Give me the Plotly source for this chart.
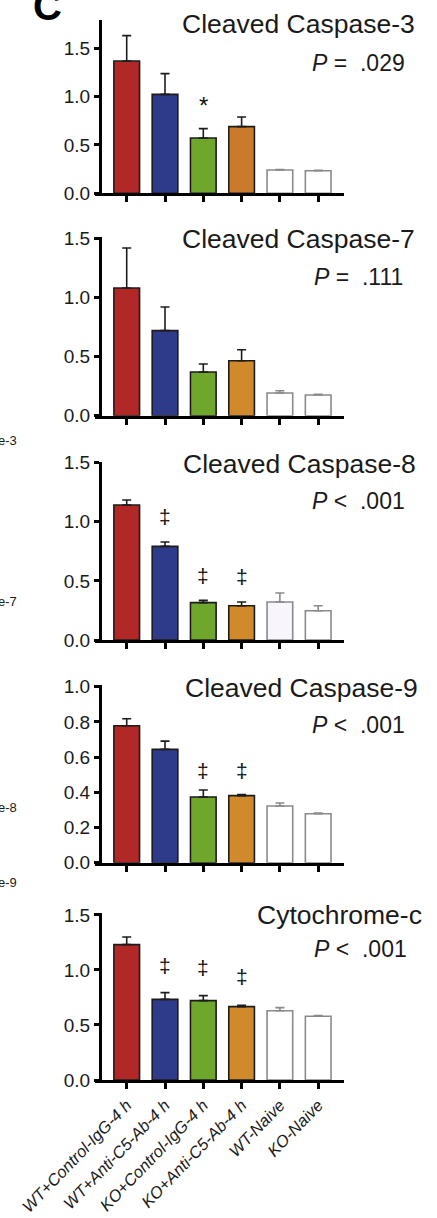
import plotly.graph_objects as go

W, H = 437, 1218

categories = ["WT+Control-IgG-4 h", "WT+Anti-C5-Ab-4 h", "KO+Control-IgG-4 h",
              "KO+Anti-C5-Ab-4 h", "WT-Naive", "KO-Naive"]

titles = ["Cleaved Caspase-3", "Cleaved Caspase-7", "Cleaved Caspase-8",
          "Cleaved Caspase-9", "Cytochrome-c"]
p_texts = ["<i>P</i> =\u00a0 .029", "<i>P</i> =\u00a0 .111", "<i>P</i> <\u00a0 .001",
           "<i>P</i> <\u00a0 .001", "<i>P</i> <\u00a0 .001"]

casp3_mean = [1.369, 1.024, 0.572, 0.690, 0.241, 0.234]
casp3_sem = [0.262, 0.214, 0.097, 0.100, 0.004, 0.004]
casp7_mean = [1.080, 0.719, 0.369, 0.465, 0.192, 0.175]
casp7_sem = [0.338, 0.200, 0.068, 0.093, 0.019, 0.005]
casp8_mean = [1.142, 0.792, 0.316, 0.290, 0.321, 0.248]
casp8_sem = [0.042, 0.037, 0.019, 0.031, 0.077, 0.042]
casp9_mean = [0.778, 0.644, 0.373, 0.381, 0.322, 0.278]
casp9_sem = [0.040, 0.047, 0.040, 0.007, 0.017, 0.004]
cytc_mean = [1.230, 0.733, 0.721, 0.667, 0.630, 0.579]
cytc_sem = [0.070, 0.061, 0.046, 0.012, 0.028, 0.006]

means = [casp3_mean, casp7_mean, casp8_mean, casp9_mean, cytc_mean]
sems = [casp3_sem, casp7_sem, casp8_sem, casp9_sem, cytc_sem]

# significance markers: (panel, category index, symbol, y)
sig_panel = [0, 2, 2, 2, 3, 3, 4, 4, 4]
sig_cat = [2, 1, 2, 3, 2, 3, 1, 2, 3]
sig_sym = ["*", "‡", "‡", "‡", "‡", "‡", "‡", "‡", "‡"]
sig_y = [0.905, 1.043, 0.547, 0.533, 0.523, 0.523, 1.039, 1.021, 0.945]

y_ranges = [1.793, 1.51, 1.51, 1.01, 1.515]
y_ticks = [[0, 0.5, 1.0, 1.5]] * 3 + [[0, 0.2, 0.4, 0.6, 0.8, 1.0]] + [[0, 0.5, 1.0, 1.5]]
# pixel rows: (zero line, top)
rows_px = [(193.3, 20.0), (415.7, 237.1), (640.0, 461.5), (862.7, 685.0), (1080.0, 913.3)]
title_px = [(417, 24), (417, 239), (418, 464), (420, 688), (424, 915)]
ptext_px = [(407, 62.5), (405, 277), (407, 501), (407, 725), (409, 949)]

fills = ["#b22826", "#2e3a8a", "#6fa72d", "#d08a2c", "#ffffff", "#ffffff"]
fills_p = [list(fills) for _ in range(5)]
fills_p[0][3] = "#c97a2b"
fills_p[2][4] = "#f8f6fc"
dark = "#1c1c1c"
gray = "#8a8a8a"

FONT = "Liberation Sans, Arial, Helvetica, sans-serif"

def px_x(p):
    return p / W

def px_y(p):
    return 1 - p / H

fig = go.Figure()
x_dom = [px_x(95), px_x(344)]
yaxis_pos = px_x(100)

layout = {}
annotations = []
for i in range(5):
    xa = "x" if i == 0 else f"x{i+1}"
    ya = "y" if i == 0 else f"y{i+1}"
    m, s = means[i], sems[i]
    # colored bars
    fig.add_trace(go.Bar(
        x=categories[:4], y=m[:4], width=0.67, xaxis=xa, yaxis=ya,
        marker=dict(color=fills_p[i][:4], line=dict(color=dark, width=1.6)),
        error_y=dict(type="data", symmetric=False, array=s[:4], arrayminus=[0] * 4,
                     color=dark, thickness=1.6, width=4.5),
        showlegend=False, hoverinfo="skip"))
    # naive bars
    fig.add_trace(go.Bar(
        x=categories[4:], y=m[4:], width=0.67, xaxis=xa, yaxis=ya,
        marker=dict(color=fills_p[i][4:], line=dict(color=gray, width=1.6)),
        error_y=dict(type="data", symmetric=False, array=s[4:], arrayminus=[0] * 2,
                     color=gray, thickness=1.6, width=4.5),
        showlegend=False, hoverinfo="skip"))

    zero_px, top_px = rows_px[i]
    xkey = "xaxis" if i == 0 else f"xaxis{i+1}"
    ykey = "yaxis" if i == 0 else f"yaxis{i+1}"
    layout[xkey] = dict(
        domain=x_dom, anchor=ya, type="category", categoryorder="array",
        categoryarray=categories, range=[-0.828, 5.674],
        showline=True, linecolor="#000", linewidth=3, showgrid=False, zeroline=False,
        ticks="outside", ticklen=6, tickwidth=2.5, tickcolor="#000",
        tickmode="array", tickvals=categories,
        ticktext=[f"<i>{c}</i>" for c in categories] if i == 4 else [""] * 6,
        tickangle=-46, tickfont=dict(family=FONT, size=16.5, color="#1a1a1a"),
        fixedrange=True)
    layout[ykey] = dict(
        domain=[px_y(zero_px), px_y(top_px)], anchor="free", position=yaxis_pos,
        range=[0, y_ranges[i]], showline=True, linecolor="#000", linewidth=3,
        showgrid=False, zeroline=False, ticks="outside", ticklen=5, tickwidth=2.5,
        tickcolor="#000", tickmode="array", tickvals=y_ticks[i],
        ticktext=[f"{v:.1f}" for v in y_ticks[i]],
        tickfont=dict(family=FONT, size=19, color="#1a1a1a"), fixedrange=True)

    tx, ty = title_px[i]
    annotations.append(dict(text=titles[i], x=px_x(tx), y=px_y(ty), xref="paper", yref="paper",
                            xanchor="right", yanchor="middle", showarrow=False,
                            font=dict(family=FONT, size=26.5, color="#1a1a1a")))
    px_, py_ = ptext_px[i]
    annotations.append(dict(text=p_texts[i], x=px_x(px_), y=px_y(py_), xref="paper", yref="paper",
                            xanchor="right", yanchor="middle", showarrow=False,
                            font=dict(family=FONT, size=23, color="#1a1a1a")))

for pnl, ci, sym, yv in zip(sig_panel, sig_cat, sig_sym, sig_y):
    xa = "x" if pnl == 0 else f"x{pnl+1}"
    ya = "y" if pnl == 0 else f"y{pnl+1}"
    annotations.append(dict(text=sym, x=categories[ci], y=yv, xref=xa, yref=ya,
                            xanchor="center", yanchor="middle", showarrow=False,
                            font=dict(family=FONT, size=24 if sym == "*" else 21,
                                      color="#111111")))

# panel letter
annotations.append(dict(text="<b>C</b>", x=px_x(47), y=px_y(6), xref="paper", yref="paper",
                        xanchor="center", yanchor="middle", showarrow=False,
                        font=dict(family=FONT, size=40, color="#000")))
# cropped labels from neighbouring panel
for txt, yy in [("e-3", 440), ("e-7", 602), ("e-8", 807), ("e-9", 883)]:
    annotations.append(dict(text=txt, x=px_x(19), y=px_y(yy), xref="paper", yref="paper",
                            xanchor="right", yanchor="middle", showarrow=False,
                            font=dict(family=FONT, size=13, color="#1a1a1a")))

fig.update_layout(
    width=W, height=H, margin=dict(l=0, r=0, t=0, b=0),
    paper_bgcolor="white", plot_bgcolor="white", template="none",
    barmode="overlay", showlegend=False, annotations=annotations, **layout)

fig.write_html("out.html", config={"displayModeBar": False},
               post_script="document.body.style.margin='0';")
